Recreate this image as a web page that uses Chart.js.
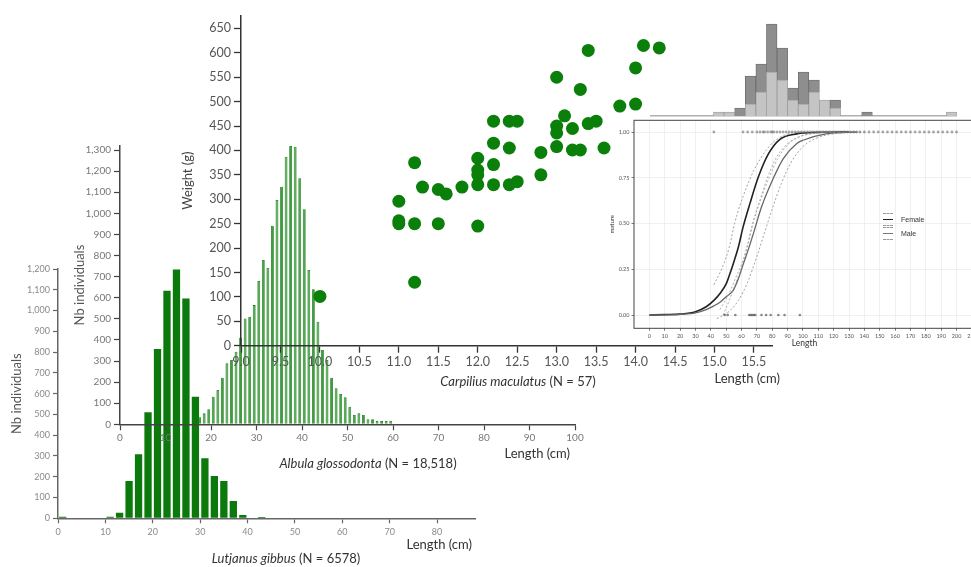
<!DOCTYPE html>
<html><head><meta charset="utf-8">
<script src="https://cdn.jsdelivr.net/npm/chart.js@4.4.1/dist/chart.umd.min.js"></script>
<style>
html,body{margin:0;padding:0;background:#fff;overflow:hidden;}
#stage{position:relative;width:971px;height:567px;overflow:hidden;font-family:Lato,'Liberation Sans',sans-serif;background:#fff;}
canvas{position:absolute;}
.t{position:absolute;white-space:nowrap;color:#333;font-size:13px;line-height:16px;}
.c{transform:translateX(-50%);}
.key{position:absolute;left:883px;width:10px;height:13px;border-top:1px dashed #999;border-bottom:1px dashed #999;box-sizing:border-box;}
.key i{position:absolute;left:0;right:0;top:5px;height:0;}
.lg{position:absolute;left:901px;font-size:7px;line-height:8px;color:#333;font-family:'Liberation Sans',sans-serif;}
</style></head><body>
<div id="stage">
<canvas id="lut" width="490" height="290" style="left:0px;top:259px"></canvas>
<canvas id="alb" width="530" height="318" style="left:60px;top:136px"></canvas>
<canvas id="carp" width="623" height="371" style="left:170px;top:5px"></canvas>
<canvas id="hist" width="307" height="103" style="left:650px;top:15px"></canvas>
<canvas id="mat" width="383" height="236" style="left:600px;top:115px"></canvas>

<div class="t" style="right:499px;top:536px">Length (cm)</div>
<div class="t c" style="left:286px;top:550px"><i>Lutjanus gibbus</i> (N = 6578)</div>
<div class="t" style="right:401px;top:445px">Length (cm)</div>
<div class="t c" style="left:368px;top:455px"><i>Albula glossodonta</i> (N = 18,518)</div>
<div class="t" style="right:191px;top:370px">Length (cm)</div>
<div class="t c" style="left:518px;top:373px"><i>Carpilius maculatus</i> (N = 57)</div>

<div class="key" style="top:213px"><i style="border-top:1.5px solid #222"></i></div>
<div class="key" style="top:227px"><i style="border-top:1.2px solid #777"></i></div>
<div class="lg" style="top:216px">Female</div>
<div class="lg" style="top:230px">Male</div>
</div>
<script>
// ---------- Lutjanus gibbus (length-frequency) ----------
const lutLen   = [1, 11, 13, 15, 17, 19, 21, 23, 25, 27, 29, 31, 33, 35, 37, 39, 43];
const lutCount = [8, 8, 27, 180, 308, 510, 815, 1095, 1198, 1058, 585, 289, 204, 180, 83, 16, 6];
const lutXTicks = [0,10,20,30,40,50,60,70,80];
const lutYTicks = [0,100,200,300,400,500,600,700,800,900,1000,1100,1200];

// ---------- Albula glossodonta (length-frequency) ----------
const albLen = [17.5,18.5,19.5,20.5,21.5,22.5,23.5,24.5,25.5,26.5,27.5,28.5,29.5,30.5,31.5,32.5,33.5,34.5,35.5,36.5,37.5,38.5,39.5,40.5,41.5,42.5,43.5,44.5,45.5,46.5,47.5,48.5,49.5,50.5,51.5,52.5,53.5,54.5,55.5,56.5,57.5,58.5,59.5];
const albCount = [33,52,71,131,163,221,289,305,344,410,502,510,565,679,779,742,941,1063,1126,1268,1319,1316,1166,1019,731,640,486,352,305,221,171,144,128,83,44,52,44,24,24,16,16,16,17];
const albXTicks = [0,10,20,30,40,50,60,70,80,90,100];
const albYTicks = [0,100,200,300,400,500,600,700,800,900,1000,1100,1200,1300];

// ---------- Carpilius maculatus (length-weight) ----------
const carpLen    = [10.0,11.0,11.0,11.0,11.2,11.2,11.2,11.3,11.5,11.6,11.5,11.8,12.0,12.0,12.0,12.0,12.0,12.2,12.2,12.2,12.2,12.4,12.5,12.4,12.4,12.5,12.8,12.8,13.0,13.0,13.0,13.0,13.1,13.2,13.2,13.3,13.3,13.4,13.4,13.5,13.6,13.8,14.0,14.0,14.1,14.3];
const carpWeight = [101,296,256,250,375,250,130,325,320,311,250,325,384,360,350,330,245,460,415,371,330,460,460,405,330,336,396,350,550,450,436,408,471,445,401,401,525,605,455,460,405,491,495,569,615,610];
const carpXTicks = [9.0,9.5,10.0,10.5,11.0,11.5,12.0,12.5,13.0,13.5,14.0,14.5,15.0,15.5];
const carpYTicks = [0,50,100,150,200,250,300,350,400,450,500,550,600,650];

// ---------- Maturity ogive ----------
const matXTicks = [0,10,20,30,40,50,60,70,80,90,100,110,120,130,140,150,160,170,180,190,200,210];
const matYTicks = [0,0.25,0.5,0.75,1];
const femLen  = [0,10,20,30,37,42,46,50,52.5,55,58,61,65.5,71,77.5,85,96,110,130];
const femP    = [0,0.002,0.005,0.018,0.045,0.08,0.118,0.17,0.227,0.29,0.373,0.48,0.61,0.755,0.88,0.96,0.99,0.998,1];
const maleLen = [0,10,20,30,37,42,46,50,54.7,58,61.2,64.5,67.7,73,79.6,87.2,96,100,115,135];
const maleP   = [0,0.001,0.004,0.012,0.03,0.05,0.07,0.1,0.136,0.2,0.28,0.36,0.445,0.59,0.727,0.855,0.937,0.955,0.99,1];
const femUpLen  = [42,48,52,55.5,59,63.4,68,72,76,80.7,86,91.5,100,120];
const femUpP    = [0.165,0.27,0.37,0.5,0.6,0.7,0.79,0.85,0.9,0.945,0.975,0.993,1,1];
const femLoLen  = [48,52,56,60,64,67,71,76,82,88,95,105,120];
const femLoP    = [0,0.08,0.17,0.26,0.38,0.49,0.6,0.73,0.85,0.92,0.965,0.99,1];
const maleUpLen = [46,52,56,61,65,68,72,78,84,90,98,110,125];
const maleUpP   = [0.03,0.12,0.2,0.3,0.42,0.52,0.62,0.75,0.86,0.93,0.975,0.995,1];
const maleLoLen = [44,52,58,64,70,75,80,86,92,100,110,125,140];
const maleLoP   = [-0.02,0.02,0.08,0.18,0.32,0.45,0.58,0.72,0.83,0.92,0.97,0.995,1];
const matureObsLen   = [42,61,64,67,70,72,74,75,77,79,80,81,83,85,87,89,91,93,95,97,99,101,103,105,107,109,111,113,115,117,119,121,123,125,127,129,131,133,135,137,140,143,146,149,152,155,158,161,164,167,170,173,176,179,182,185,188,191,194,197,200];
const immatureObsLen = [49,51,56,65,66,67,68,69,73,76,79,84,88,98];

// ---------- Length histogram above ogive ----------
const histBins  = [3.6,10.5,17.4,24.3,31.2,38.1,45.0,51.9,58.8,65.7,72.6,79.5,86.4,93.3,100.2,107.1,114.0,120.9,127.8,134.7,141.6,148.5,155.4,162.3,169.2,176.1,183.0,189.9,196.8];
const histLight = [0,0,0,0,0,0,1,1,0,3,6,11,9,4,3,6,4,2,0,0,0,0,0,0,0,0,0,0,1];
const histDark  = [0,0,0,0,0,0,0,0,2,7,7,12,8,3,8,3,0,2,0,0,1,0,0,0,0,0,0,0,0];

Chart.defaults.font.family = "Lato, 'Liberation Sans', sans-serif";
const base = {responsive:false, animation:false, events:[], plugins:{legend:{display:false}, tooltip:{enabled:false}}};
const pts = (xs, ys) => xs.map((x,i)=>({x, y:ys[i]}));
const setTicks = arr => (s => { s.ticks = arr.map(v => ({value:v})); });

// Lutjanus
new Chart(document.getElementById('lut'), {
  type:'bar',
  data:{datasets:[{data:pts(lutLen,lutCount), backgroundColor:'#0b790b', borderWidth:0, barPercentage:0.77, categoryPercentage:1}]},
  options:Object.assign({}, base, {
    layout:{padding:{top:10,right:15,bottom:0,left:0}},
    scales:{
      x:{type:'linear', min:0, max:88, offset:false, afterBuildTicks:setTicks(lutXTicks),
         grid:{offset:false, drawOnChartArea:false, tickLength:5, tickColor:'#666', tickWidth:1.2},
         border:{color:'#666', width:1.5},
         ticks:{autoSkip:false, maxRotation:0, font:{size:9}, color:'#8a8a8a', padding:3, callback:v=>String(v)},
         afterFit(s){ s.height = 30.7; }},
      y:{min:0, max:1200, afterBuildTicks:setTicks(lutYTicks),
         grid:{drawOnChartArea:false, tickLength:5, tickColor:'#666', tickWidth:1.2},
         border:{color:'#666', width:1.5},
         ticks:{autoSkip:false, font:{size:9}, color:'#8a8a8a', padding:3, callback:v=>v.toLocaleString('en-US')},
         title:{display:true, text:'Nb individuals', color:'#555', font:{size:13}, padding:{top:9.5,bottom:0}},
         afterFit(s){ s.width = 58; }}
    }
  })
});

// Albula
new Chart(document.getElementById('alb'), {
  type:'bar',
  data:{datasets:[{data:pts(albLen,albCount), backgroundColor:'#3c9f3c', borderColor:'#187818', borderWidth:0.8, barPercentage:0.62, categoryPercentage:1}]},
  options:Object.assign({}, base, {
    layout:{padding:{top:9.8,right:15,bottom:0,left:0}},
    scales:{
      x:{type:'linear', min:0, max:100, offset:false, afterBuildTicks:setTicks(albXTicks),
         grid:{offset:false, drawOnChartArea:false, tickLength:6, tickColor:'#444', tickWidth:1.2},
         border:{color:'#444', width:1.5},
         ticks:{autoSkip:false, maxRotation:0, font:{size:10}, color:'#777', padding:1, callback:v=>String(v)},
         afterFit(s){ s.height = 29.7; }},
      y:{min:0, max:1320, afterBuildTicks:setTicks(albYTicks),
         grid:{drawOnChartArea:false, tickLength:6, tickColor:'#444', tickWidth:1.2},
         border:{color:'#444', width:1.5},
         ticks:{autoSkip:false, font:{size:10}, color:'#777', padding:3, callback:v=>v.toLocaleString('en-US')},
         title:{display:true, text:'Nb individuals', color:'#555', font:{size:13}, padding:{top:12.2,bottom:0}},
         afterFit(s){ s.width = 60; }}
    }
  })
});

// Carpilius
new Chart(document.getElementById('carp'), {
  type:'scatter',
  data:{datasets:[{data:pts(carpLen,carpWeight), backgroundColor:'#0a7f0a', borderWidth:0, pointRadius:6.5}]},
  options:Object.assign({}, base, {
    layout:{padding:{top:8,right:20.1,bottom:0,left:0}},
    scales:{
      x:{type:'linear', min:9, max:15.74, afterBuildTicks:setTicks(carpXTicks),
         grid:{drawOnChartArea:false, tickLength:7, tickColor:'#333', tickWidth:1.3},
         border:{color:'#333', width:1.5},
         ticks:{autoSkip:false, maxRotation:0, font:{size:12.5}, color:'#555', padding:2, callback:v=>v.toFixed(1)},
         afterFit(s){ s.height = 30.3; }},
      y:{min:0, max:676.5, afterBuildTicks:setTicks(carpYTicks),
         grid:{drawOnChartArea:false, tickLength:7, tickColor:'#333', tickWidth:1.3},
         border:{color:'#333', width:1.5},
         ticks:{autoSkip:false, font:{size:12.5}, color:'#555', padding:3, callback:v=>String(v)},
         title:{display:true, text:'Weight (g)', color:'#444', font:{size:13}, padding:{top:10.2,bottom:0}},
         afterFit(s){ s.width = 71; }}
    }
  })
});

// Histogram above the ogive
new Chart(document.getElementById('hist'), {
  type:'bar',
  data:{labels:histBins, datasets:[
    {data:histLight, backgroundColor:'#c4c4c4', borderColor:'#9a9a9a', borderWidth:0.8, barPercentage:1, categoryPercentage:1},
    {data:histDark,  backgroundColor:'#8e8e8e', borderColor:'#6a6a6a', borderWidth:0.8, barPercentage:1, categoryPercentage:1}
  ]},
  options:Object.assign({}, base, {
    layout:{padding:{top:0,right:0,bottom:2,left:0}},
    scales:{
      x:{stacked:true, grid:{display:false}, ticks:{display:false}, border:{color:'#b0b0b0', width:1.5}, afterFit(s){ s.height = 0; }},
      y:{stacked:true, display:false, min:0, max:25.25}
    }
  })
});

// Maturity ogive panel
const panelPlugin = {
  id:'panel',
  beforeDraw(chart){ const {ctx, chartArea:a} = chart; ctx.save(); ctx.fillStyle='#fff'; ctx.fillRect(a.left,a.top,a.right-a.left,a.bottom-a.top); ctx.restore(); },
  afterDraw(chart){ const {ctx, chartArea:a} = chart; ctx.save(); ctx.strokeStyle='#444'; ctx.lineWidth=1; ctx.strokeRect(a.left,a.top,a.right-a.left,a.bottom-a.top); ctx.restore(); }
};
const curve = (xs, ys, color, w, dash) => ({type:'line', data:pts(xs,ys), borderColor:color, borderWidth:w, borderDash:dash, pointRadius:0, fill:false, cubicInterpolationMode:'monotone'});
new Chart(document.getElementById('mat'), {
  type:'line',
  data:{datasets:[
    {type:'line', data:matureObsLen.map(x=>({x, y:1})), showLine:false, pointRadius:1.4, pointBackgroundColor:'rgba(110,110,110,0.6)', pointBorderWidth:0},
    {type:'line', data:immatureObsLen.map(x=>({x, y:0})), showLine:false, pointRadius:1.3, pointBackgroundColor:'rgba(60,60,60,0.6)', pointBorderWidth:0},
    curve(femUpLen, femUpP, '#8a8a8a', 0.8, [2,2]),
    curve(femLoLen, femLoP, '#9a9a9a', 0.8, [2,2]),
    curve(maleUpLen, maleUpP, '#a0a0a0', 0.8, [2,2]),
    curve(maleLoLen, maleLoP, '#8a8a8a', 0.8, [2,2]),
    curve(maleLen, maleP, '#666', 1.3, []),
    curve(femLen, femP, '#222', 1.6, [])
  ]},
  options:Object.assign({}, base, {
    layout:{padding:{top:5,right:8,bottom:0,left:0}},
    scales:{
      x:{type:'linear', min:-10, max:212, afterBuildTicks:setTicks(matXTicks),
         grid:{color:'#e9e9e9', lineWidth:0.7, tickLength:2.5, tickColor:'#444', tickWidth:0.7},
         border:{display:false},
         ticks:{autoSkip:false, maxRotation:0, font:{size:5.5}, color:'#555', padding:2},
         title:{display:true, text:'Length', color:'#333', font:{size:8.5}, padding:{top:0,bottom:2.9}},
         afterFit(s){ s.height = 22.7; }},
      y:{min:-0.0726, max:1.064, afterBuildTicks:setTicks(matYTicks),
         grid:{color:'#e9e9e9', lineWidth:0.7, tickLength:2.5, tickColor:'#444', tickWidth:0.7},
         border:{display:false},
         ticks:{autoSkip:false, font:{size:5.5}, color:'#555', padding:2, callback:v=>v.toFixed(2)},
         title:{display:true, text:'mature', color:'#333', font:{size:6}, padding:{top:8.4,bottom:0}},
         afterFit(s){ s.width = 34; }}
    }
  }),
  plugins:[panelPlugin]
});
</script>
</body></html>
